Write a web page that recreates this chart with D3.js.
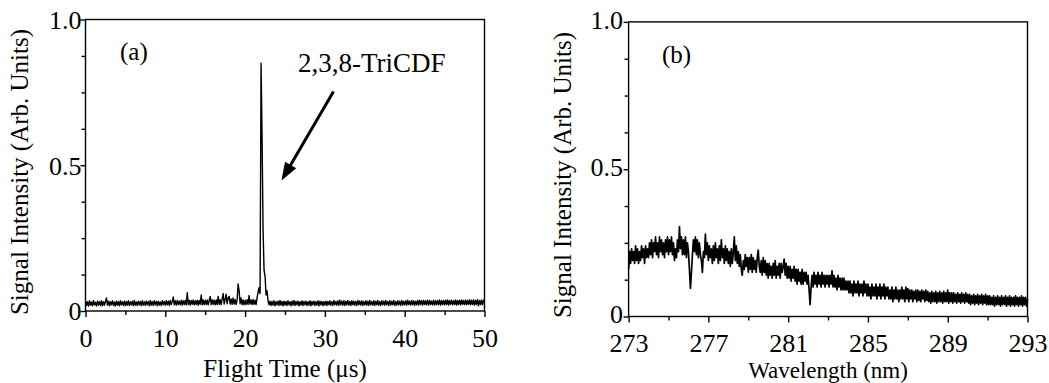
<!DOCTYPE html>
<html><head><meta charset="utf-8">
<script src="https://cdn.jsdelivr.net/npm/d3@7"></script>
<style>
body{margin:0;background:#fff}
svg{display:block}
text{font-family:"Liberation Serif","Times New Roman",serif;fill:#000}
</style>
</head><body>
<svg id="c" width="1049" height="383"></svg>
<script>
// ---- Panel (a): time-of-flight spectrum ----
const tofStart = 0, tofStep = 0.125; // microseconds
const tofSignal = [
0.034,0.019,0.032,0.017,0.035,0.02,0.031,0.018,0.036,0.021,0.03,0.017,0.034,0.02,0.033,0.019,0.035,0.018,0.032,0.02,
0.033,0.045,0.02,0.034,0.018,0.032,0.021,0.035,0.019,0.031,0.017,0.034,0.02,0.033,0.018,0.035,0.021,0.032,0.019,0.034,
0.018,0.033,0.02,0.035,0.019,0.032,0.021,0.034,0.018,0.036,0.02,0.031,0.019,0.034,0.021,0.033,0.018,0.035,0.02,0.032,
0.019,0.034,0.021,0.033,0.018,0.036,0.02,0.032,0.019,0.035,0.021,0.033,0.018,0.034,0.02,0.031,0.019,0.035,0.021,0.033,
0.02,0.035,0.021,0.034,0.019,0.036,0.022,0.033,0.048,0.021,0.035,0.02,0.036,0.022,0.034,0.021,0.037,0.02,0.035,0.022,
0.036,0.021,0.063,0.022,0.037,0.02,0.036,0.023,0.038,0.021,0.035,0.022,0.037,0.02,0.036,0.023,0.055,0.021,0.038,0.022,
0.037,0.022,0.038,0.021,0.036,0.05,0.022,0.039,0.023,0.037,0.021,0.038,0.022,0.05,0.023,0.039,0.022,0.042,0.06,0.024,
0.04,0.058,0.025,0.045,0.05,0.024,0.041,0.023,0.045,0.024,0.04,0.022,0.039,0.093,0.07,0.025,0.045,0.022,0.038,0.021,
0.037,0.022,0.039,0.023,0.053,0.024,0.038,0.022,0.04,0.023,0.037,0.022,0.045,0.065,0.08,0.06,0.85,0.6,0.28,0.14,
0.12,0.055,0.07,0.035,0.021,0.034,0.019,0.033,0.02,0.035,0.018,0.032,0.021,0.034,0.019,0.036,0.02,0.033,0.018,0.034,
0.02,0.033,0.019,0.035,0.021,0.032,0.018,0.034,0.02,0.036,0.019,0.033,0.021,0.034,0.018,0.032,0.02,0.035,0.019,0.033,
0.021,0.034,0.019,0.032,0.02,0.035,0.018,0.033,0.021,0.034,0.019,0.032,0.02,0.035,0.018,0.034,0.021,0.033,0.019,0.032,
0.02,0.034,0.019,0.033,0.021,0.035,0.02,0.032,0.019,0.036,0.021,0.033,0.02,0.035,0.019,0.037,0.021,0.034,0.02,0.035,
0.019,0.034,0.021,0.036,0.02,0.033,0.019,0.035,0.021,0.034,0.02,0.033,0.019,0.036,0.021,0.034,0.02,0.035,0.019,0.033,
0.021,0.035,0.02,0.034,0.019,0.036,0.021,0.033,0.02,0.035,0.019,0.034,0.021,0.036,0.02,0.033,0.019,0.035,0.021,0.034,
0.02,0.036,0.021,0.033,0.019,0.035,0.02,0.034,0.021,0.036,0.019,0.033,0.02,0.035,0.021,0.034,0.019,0.036,0.02,0.034,
0.021,0.035,0.02,0.037,0.022,0.034,0.02,0.036,0.021,0.035,0.019,0.034,0.021,0.036,0.02,0.037,0.022,0.035,0.02,0.036,
0.022,0.035,0.021,0.037,0.02,0.036,0.022,0.034,0.021,0.037,0.02,0.035,0.022,0.036,0.021,0.038,0.02,0.035,0.022,0.036,
0.021,0.037,0.022,0.038,0.02,0.036,0.023,0.037,0.021,0.035,0.022,0.038,0.02,0.036,0.022,0.037,0.021,0.038,0.023,0.036,
0.022,0.038,0.021,0.036,0.023,0.039,0.021,0.037,0.022,0.038,0.02,0.037,0.022,0.039,0.018,0.036,0.022,0.038,0.021,0.037,0.035
];
const tofDomain = [0, 50];
const tofXTicks = [0, 10, 20, 30, 40, 50];
const tofXMinor = [5, 15, 25, 35, 45];

// ---- Panel (b): wavelength scan ----
const wlStart = 273, wlStep = 0.05; // nm
const wlSignal = [
0.16,0.22,0.18,0.23,0.19,0.22,0.18,0.24,0.19,0.23,0.18,0.22,0.19,0.24,0.20,0.23,0.18,0.24,0.20,0.23,
0.20,0.25,0.21,0.26,0.20,0.25,0.22,0.27,0.21,0.25,0.20,0.27,0.22,0.26,0.21,0.25,0.20,0.26,0.22,0.27,
0.21,0.26,0.22,0.27,0.21,0.25,0.19,0.23,0.20,0.26,0.22,0.305,0.23,0.27,0.21,0.26,0.21,0.27,0.20,0.25,
0.22,0.16,0.095,0.15,0.21,0.26,0.22,0.27,0.21,0.26,0.20,0.25,0.21,0.19,0.15,0.22,0.20,0.28,0.21,0.25,
0.19,0.24,0.20,0.23,0.18,0.24,0.19,0.25,0.20,0.23,0.18,0.24,0.19,0.26,0.20,0.23,0.18,0.24,0.19,0.23,
0.18,0.22,0.17,0.23,0.18,0.22,0.27,0.19,0.24,0.18,0.22,0.17,0.21,0.16,0.14,0.19,0.16,0.21,0.17,0.20,
0.15,0.20,0.16,0.21,0.15,0.20,0.16,0.19,0.15,0.20,0.225,0.17,0.15,0.19,0.14,0.20,0.15,0.19,0.14,0.18,
0.13,0.18,0.14,0.17,0.13,0.18,0.14,0.19,0.13,0.17,0.14,0.18,0.13,0.18,0.15,0.17,0.195,0.14,0.18,0.13,
0.17,0.13,0.17,0.12,0.16,0.13,0.17,0.12,0.16,0.11,0.16,0.12,0.15,0.11,0.16,0.11,0.15,0.12,0.15,0.11,
0.14,0.09,0.04,0.10,0.14,0.10,0.15,0.11,0.14,0.10,0.15,0.11,0.14,0.10,0.15,0.11,0.14,0.10,0.14,0.11,
0.14,0.10,0.14,0.11,0.155,0.10,0.14,0.10,0.13,0.09,0.14,0.10,0.13,0.09,0.13,0.09,0.13,0.09,0.12,0.09,
0.12,0.08,0.12,0.08,0.11,0.07,0.12,0.08,0.11,0.08,0.12,0.07,0.11,0.08,0.11,0.07,0.12,0.08,0.11,0.07,
0.11,0.07,0.10,0.06,0.11,0.07,0.10,0.07,0.11,0.06,0.10,0.07,0.11,0.06,0.10,0.07,0.11,0.06,0.10,0.07,
0.10,0.06,0.09,0.06,0.10,0.05,0.09,0.06,0.10,0.06,0.09,0.05,0.09,0.06,0.10,0.06,0.09,0.05,0.10,0.06,
0.095,0.05,0.09,0.06,0.09,0.05,0.085,0.06,0.09,0.05,0.09,0.055,0.085,0.05,0.09,0.06,0.085,0.05,0.09,0.055,
0.085,0.05,0.08,0.045,0.085,0.05,0.08,0.05,0.085,0.045,0.08,0.05,0.085,0.05,0.08,0.045,0.085,0.05,0.08,0.05,
0.09,0.045,0.08,0.05,0.08,0.045,0.08,0.05,0.075,0.045,0.08,0.05,0.075,0.045,0.08,0.05,0.075,0.045,0.08,0.05,
0.075,0.045,0.075,0.04,0.07,0.045,0.075,0.04,0.07,0.045,0.075,0.04,0.07,0.045,0.075,0.04,0.07,0.045,0.075,0.04,
0.07,0.04,0.07,0.04,0.065,0.04,0.07,0.035,0.065,0.04,0.07,0.04,0.065,0.035,0.07,0.04,0.065,0.04,0.07,0.035,
0.065,0.04,0.07,0.035,0.065,0.04,0.065,0.035,0.07,0.04,0.065,0.035,0.065,0.04,0.07,0.035,0.065,0.04,0.065,0.035,0.06
];
const wlDomain = [273, 293];
const wlXTicks = [273, 277, 281, 285, 289, 293];
const wlXMinor = [275, 279, 283, 287, 291];

// ---- shared y axis ----
const yDomain = [0, 1];
const yTicks = [0, 0.5, 1.0];
const yTickLabels = ["0", "0.5", "1.0"];
const yMinor = [0.125, 0.25, 0.375, 0.625, 0.75, 0.875];

// ---- texts ----
const yTitle = "Signal Intensity (Arb. Units)";
const xTitleA = "Flight Time (\u03bcs)";
const xTitleB = "Wavelength (nm)";
const annotation = "2,3,8-TriCDF";

const svg = d3.select("#c");
const FONT = '"Liberation Serif","Times New Roman",serif';

function panel(o) {
  const x = d3.scaleLinear().domain(o.domain).range([o.l, o.r]);
  const y = d3.scaleLinear().domain(yDomain).range([o.b, o.t]);
  const g = svg.append("g");

  // trace
  const line = d3.line()
    .x((d, i) => x(o.start + i * o.step))
    .y(d => y(d));
  g.append("path").datum(o.data)
    .attr("d", line).attr("fill", "none")
    .attr("stroke", "#000").attr("stroke-width", o.lw)
    .attr("stroke-linejoin", "round");

  // bottom axis: minor + major
  const xMin = g.append("g").attr("transform", `translate(0,${o.b})`)
    .call(d3.axisBottom(x).tickValues(o.minor).tickSize(4).tickFormat(""));
  const xMaj = g.append("g").attr("transform", `translate(0,${o.b})`)
    .call(d3.axisBottom(x).tickValues(o.ticks).tickSize(6).tickFormat(d3.format("d")));
  [xMin, xMaj].forEach(a => { a.select(".domain").remove(); a.selectAll("line").attr("stroke", "#000").attr("stroke-width", 1.4); });
  xMaj.selectAll("text").attr("y", o.xLabOff).attr("dy", 0)
    .style("font-family", FONT).style("font-size", "26px").attr("fill", "#000");

  // left axis: minor + major
  const yMin = g.append("g").attr("transform", `translate(${o.l},0)`)
    .call(d3.axisLeft(y).tickValues(yMinor).tickSize(4).tickFormat(""));
  const yMaj = g.append("g").attr("transform", `translate(${o.l},0)`)
    .call(d3.axisLeft(y).tickValues(yTicks).tickSize(5).tickFormat((d, i) => yTickLabels[i]));
  [yMin, yMaj].forEach(a => { a.select(".domain").remove(); a.selectAll("line").attr("stroke", "#000").attr("stroke-width", 1.4); });
  yMaj.selectAll("text").attr("x", -o.yLabGap).attr("dy", o.yLabDy)
    .style("font-family", FONT).style("font-size", "26px").attr("fill", "#000");

  // frame
  g.append("rect").attr("x", o.l).attr("y", o.t)
    .attr("width", o.r - o.l).attr("height", o.b - o.t)
    .attr("fill", "none").attr("stroke", "#000").attr("stroke-width", 1.4);

  // titles
  g.append("text").attr("transform", `translate(${o.yTitleX},${o.yTitleY}) rotate(-90)`)
    .attr("text-anchor", "middle").style("font-size", "25px").text(yTitle);
  g.append("text").attr("x", (o.l + o.r) / 2).attr("y", o.xTitleY)
    .attr("text-anchor", "middle").style("font-size", o.xTitleSize).text(o.xTitle);
  g.append("text").attr("x", o.tagX).attr("y", o.tagY)
    .style("font-size", "25px").text(o.tag);
  return { x, y, g };
}

const A = panel({
  l: 85.5, r: 484.5, t: 19.5, b: 311, lw: 1.4,
  domain: tofDomain, data: tofSignal, start: tofStart, step: tofStep,
  ticks: tofXTicks, minor: tofXMinor, xLabOff: 35.5, yLabGap: 4, yLabDy: "0.34em",
  yTitleX: 28, yTitleY: 172, xTitle: xTitleA, xTitleY: 377, xTitleSize: "25px",
  tag: "(a)", tagX: 120, tagY: 60
});

const B = panel({
  l: 628.6, r: 1027.5, t: 21.9, b: 316.5, lw: 1.7,
  domain: wlDomain, data: wlSignal, start: wlStart, step: wlStep,
  ticks: wlXTicks, minor: wlXMinor, xLabOff: 35, yLabGap: 5.5, yLabDy: "0.24em",
  yTitleX: 570.5, yTitleY: 175, xTitle: xTitleB, xTitleY: 378, xTitleSize: "23px",
  tag: "(b)", tagX: 662, tagY: 62.5
});

// annotation with arrow in panel (a)
A.g.append("text").attr("x", 298).attr("y", 71.5)
  .style("font-size", "27px").text(annotation);
const ax0 = 333.5, ay0 = 91.5, ax1 = 281.5, ay1 = 180.5;
const ang = Math.atan2(ay1 - ay0, ax1 - ax0);
const headLen = 18, headHalf = 6.5;
const bx = ax1 - headLen * Math.cos(ang), by = ay1 - headLen * Math.sin(ang);
A.g.append("line").attr("x1", ax0).attr("y1", ay0).attr("x2", bx + 2 * Math.cos(ang)).attr("y2", by + 2 * Math.sin(ang))
  .attr("stroke", "#000").attr("stroke-width", 3);
A.g.append("path")
  .attr("d", `M${ax1},${ay1}L${bx - headHalf * Math.sin(ang)},${by + headHalf * Math.cos(ang)}L${bx + headHalf * Math.sin(ang)},${by - headHalf * Math.cos(ang)}Z`)
  .attr("fill", "#000");
</script>
</body></html>
